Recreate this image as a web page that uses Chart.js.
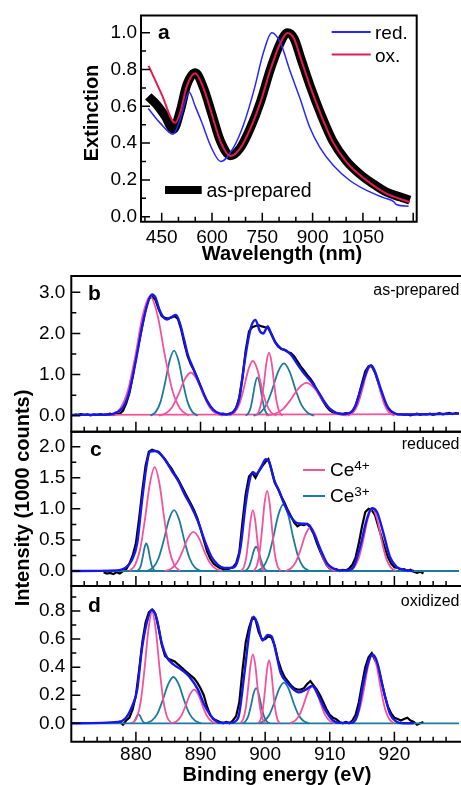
<!DOCTYPE html>
<html>
<head>
<meta charset="utf-8">
<script src="https://cdn.jsdelivr.net/npm/chart.js@4.4.1/dist/chart.umd.min.js"></script>
<style>
  html, body { margin: 0; padding: 0; background: #fff; }
  #figure { position: relative; width: 461px; height: 785px; overflow: hidden; }
  #figure canvas { position: absolute; left: 0; top: 0; }
</style>
</head>
<body>
<div id="figure">
  <canvas id="panelA" width="461" height="785"></canvas>
  <canvas id="panelB" width="461" height="785"></canvas>
  <canvas id="panelC" width="461" height="785"></canvas>
  <canvas id="panelD" width="461" height="785"></canvas>
</div>
<script>
// ---- panel a: extinction spectra ----
const waveAsPrepared = [410, 435, 460, 485, 505, 525, 550, 575, 600, 625, 655, 685, 715, 745, 775, 805, 825, 845, 865, 895, 925, 960, 1000, 1040, 1080, 1120, 1160, 1190];
const extAsPrepared = [0.654, 0.609, 0.547, 0.475, 0.573, 0.717, 0.783, 0.699, 0.556, 0.412, 0.332, 0.376, 0.484, 0.627, 0.806, 0.95, 1.0, 0.968, 0.86, 0.699, 0.556, 0.412, 0.305, 0.233, 0.179, 0.134, 0.108, 0.09];
const waveOx = [411, 450, 490, 505, 525, 550, 575, 600, 625, 655, 685, 715, 745, 775, 805, 825, 845, 865, 895, 925, 960, 1000, 1040, 1080, 1120, 1160, 1190];
const extOx = [0.82, 0.665, 0.51, 0.565, 0.71, 0.78, 0.697, 0.554, 0.41, 0.33, 0.374, 0.482, 0.625, 0.804, 0.948, 0.998, 0.966, 0.858, 0.697, 0.553, 0.408, 0.3, 0.228, 0.172, 0.126, 0.098, 0.08];
const waveRed = [410, 445, 484, 505, 532, 550, 568, 598, 626, 664, 694, 724, 754, 778, 803, 833, 862, 892, 922, 962, 1011, 1061, 1111, 1141, 1151, 1186];
const extRed = [0.588, 0.51, 0.448, 0.53, 0.677, 0.6, 0.52, 0.376, 0.3, 0.376, 0.5, 0.68, 0.896, 1.0, 0.95, 0.79, 0.645, 0.484, 0.376, 0.278, 0.197, 0.143, 0.104, 0.084, 0.065, 0.057];

// ---- panels b-d: Ce 3d XPS (1000 counts) ----
const energyGrid = [
  870, 870.5, 871, 871.5, 872, 872.5, 873, 873.5, 874, 874.5,
  875, 875.5, 876, 876.5, 877, 877.5, 878, 878.5, 879, 879.5,
  880, 880.5, 881, 881.5, 882, 882.5, 883, 883.5, 884, 884.5,
  885, 885.5, 886, 886.5, 887, 887.5, 888, 888.5, 889, 889.5,
  890, 890.5, 891, 891.5, 892, 892.5, 893, 893.5, 894, 894.5,
  895, 895.5, 896, 896.5, 897, 897.5, 898, 898.5, 899, 899.5,
  900, 900.5, 901, 901.5, 902, 902.5, 903, 903.5, 904, 904.5,
  905, 905.5, 906, 906.5, 907, 907.5, 908, 908.5, 909, 909.5,
  910, 910.5, 911, 911.5, 912, 912.5, 913, 913.5, 914, 914.5,
  915, 915.5, 916, 916.5, 917, 917.5, 918, 918.5, 919, 919.5,
  920, 920.5, 921, 921.5, 922, 922.5, 923, 923.5, 924, 924.5,
  925, 925.5, 926, 926.5, 927, 927.5, 928, 928.5, 929, 929.5,
  930,
];

const countsB = [
  null,
  0.03, 0.02, 0.04, 0.02, 0.03, 0.01, 0.03, 0.02, 0.04, 0.02,
  0.03, 0.05, 0.02, 0.04, 0.05, 0.12, 0.3, 0.55, 0.95, 1.4,
  1.8, 2.2, 2.6, 2.85, 2.9, 2.82, 2.6, 2.42, 2.38, 2.36,
  2.39, 2.42, 2.35, 2.1, 1.75, 1.45, 1.25, 1.1, 0.92, 0.72,
  0.52, 0.36, 0.22, 0.12, 0.07, 0.04, 0.05, 0.03, 0.05, 0.08,
  0.18, 0.45, 0.95, 1.6, 2.05, 2.15, 2.18, 2.2, 2.17, 2.15,
  2.12, 1.98, 1.8, 1.68, 1.62, 1.6, 1.55, 1.52, 1.44, 1.32,
  1.2, 1.1, 0.99, 0.9, 0.78, 0.62, 0.48, 0.34, 0.22, 0.13,
  0.08, 0.06, 0.05, 0.04, 0.06, 0.05, 0.1, 0.25, 0.5, 0.8,
  1.08, 1.2, 1.2, 1.05, 0.8, 0.55, 0.32, 0.18, 0.1, 0.05,
  0.03, 0.04, 0.02, 0.03, 0.01, 0.03, 0.05, 0.02, 0.04, 0.03,
  0.05, 0.02, 0.04, 0.06, 0.03, 0.05, 0.07, 0.04, 0.06, 0.05,
];

const countsC = [
  null, null, null, null, null, null, null, null, null, null,
  -0.02, -0.04, -0.03, -0.05, -0.02, -0.04, 0.0, 0.03, 0.12, 0.25,
  0.45, 0.85, 1.3, 1.7, 1.92, 1.95, 1.93, 1.92, 1.86, 1.8,
  1.72, 1.65, 1.56, 1.48, 1.38, 1.28, 1.18, 1.08, 0.98, 0.85,
  0.68, 0.5, 0.32, 0.2, 0.12, 0.08, 0.05, 0.03, 0.02, 0.04,
  0.06, 0.12, 0.3, 0.8, 1.25, 1.52, 1.58, 1.5, 1.6, 1.68,
  1.75, 1.8, 1.62, 1.42, 1.32, 1.2, 1.1, 0.98, 0.88, 0.78,
  0.72, 0.75, 0.74, 0.76, 0.7, 0.6, 0.45, 0.32, 0.2, 0.1,
  0.04, 0.02, 0.03, 0.0, 0.02, 0.01, 0.04, 0.1, 0.22, 0.45,
  0.72, 0.95, 1.0, 0.98, 0.9, 0.72, 0.55, 0.38, 0.22, 0.12,
  0.06, 0.05, 0.02, 0.03, 0.0, 0.02, -0.01, -0.03, -0.01, -0.04,
  null, null, null, null, null, null, null, null, null, null,
  null,
];

const countsD = [
  null, null, null, null, null, null, null, null, null, null,
  null, null, null, null, 0.0, 0.01, -0.01, 0.02, 0.04, 0.1,
  0.2, 0.38, 0.58, 0.72, 0.79, 0.81, 0.78, 0.68, 0.56, 0.48,
  0.46, 0.45, 0.44, 0.42, 0.4, 0.38, 0.36, 0.34, 0.32, 0.29,
  0.25, 0.2, 0.12, 0.06, 0.03, 0.02, 0.01, 0.0, 0.01, 0.0,
  0.02, 0.05, 0.15, 0.38, 0.58, 0.68, 0.75, 0.74, 0.65, 0.6,
  0.6, 0.62, 0.61, 0.55, 0.45, 0.38, 0.33, 0.3, 0.27, 0.25,
  0.24, 0.24, 0.25, 0.28, 0.3, 0.27, 0.24, 0.2, 0.15, 0.1,
  0.06, 0.04, 0.03, 0.01, 0.0, 0.01, 0.0, 0.02, 0.06, 0.15,
  0.28, 0.4, 0.47, 0.5, 0.45, 0.4, 0.3, 0.2, 0.12, 0.07,
  0.04, 0.03, 0.02, 0.03, 0.04, 0.02, 0.01, -0.01, 0.0, 0.01,
  null, null, null, null, null, null, null, null, null, null,
  null,
];

const envelopeB = [[870, 0.02], [876, 0.03], [877, 0.08], [878, 0.2], [879, 0.6], [880, 1.35], [881, 2.2], [882, 2.82], [882.5, 2.95], [883, 2.88], [883.7, 2.55], [884.3, 2.38], [884.8, 2.34], [885.5, 2.4], [886.2, 2.45], [886.8, 2.25], [887.5, 1.82], [888, 1.5], [889, 1.1], [890, 0.72], [891, 0.36], [892, 0.14], [893, 0.05], [894, 0.03], [895, 0.08], [896, 0.42], [897, 1.5], [897.8, 2.15], [898.5, 2.33], [899.2, 2.05], [899.7, 2.0], [900.4, 2.17], [900.9, 2.0], [901.6, 1.78], [902.5, 1.63], [903.3, 1.58], [904, 1.48], [905, 1.25], [906, 1.03], [907, 0.85], [908, 0.64], [909, 0.38], [910, 0.17], [911, 0.07], [912, 0.04], [913, 0.06], [914, 0.25], [915, 0.75], [916, 1.18], [916.4, 1.23], [917, 1.07], [918, 0.6], [919, 0.2], [920, 0.06], [921, 0.03], [930, 0.05]];
const envelopeC = [[870, 0], [877, 0.01], [878.6, 0.07], [879.4, 0.18], [880.2, 0.45], [880.9, 1.09], [881.7, 1.73], [882.2, 1.92], [883, 1.93], [883.7, 1.89], [884.5, 1.79], [885.5, 1.62], [886.6, 1.44], [887.6, 1.22], [888.6, 1.03], [889.6, 0.8], [890.6, 0.5], [891.7, 0.23], [892.7, 0.1], [893.7, 0.05], [894.7, 0.05], [895.5, 0.1], [896.2, 0.39], [897, 1.09], [897.6, 1.46], [898.1, 1.59], [898.6, 1.56], [899.4, 1.68], [900.1, 1.8], [900.6, 1.76], [901.4, 1.46], [902.2, 1.28], [902.9, 1.09], [904, 0.87], [905, 0.77], [906, 0.76], [906.8, 0.74], [907.5, 0.61], [908.6, 0.34], [909.6, 0.12], [910.6, 0.04], [911.6, 0.01], [912.7, 0.01], [913.7, 0.07], [914.7, 0.39], [915.7, 0.82], [916.5, 1.01], [917.3, 0.95], [918.3, 0.61], [919.3, 0.23], [920.3, 0.07], [921.4, 0.02], [923, 0]];
const envelopeD = [[870, 0], [877.3, 0.01], [878.4, 0.036], [879.4, 0.12], [880.2, 0.24], [880.9, 0.52], [881.7, 0.72], [882.5, 0.81], [883.2, 0.75], [884, 0.57], [884.8, 0.47], [885.8, 0.42], [887.1, 0.38], [888.3, 0.33], [889.6, 0.24], [890.6, 0.13], [891.9, 0.036], [893, 0.005], [894.7, 0.005], [895.8, 0.036], [896.8, 0.36], [897.6, 0.66], [898.2, 0.76], [898.8, 0.71], [899.6, 0.59], [900.4, 0.63], [901, 0.62], [901.7, 0.5], [902.4, 0.36], [903.5, 0.285], [904.5, 0.237], [905.2, 0.22], [906.2, 0.237], [907.3, 0.266], [908.3, 0.19], [909.3, 0.095], [910.4, 0.024], [911.6, 0.003], [913.2, 0.003], [914.2, 0.047], [915.2, 0.285], [916, 0.44], [916.6, 0.49], [917.3, 0.44], [918.3, 0.24], [919.3, 0.07], [920.3, 0.012], [921.4, 0], [923, 0]];

const ce4PeaksB = [
  [[876.22, 0], [877.6, 0.18], [878.75, 0.61], [879.9, 1.45], [881.05, 2.44], [882.2, 2.9], [883.35, 2.44], [884.5, 1.45], [885.65, 0.61], [886.8, 0.18], [888.18, 0]],
  [[883.56, 0], [884.7, 0.066], [885.65, 0.22], [886.6, 0.525], [887.55, 0.88], [888.5, 1.05], [889.45, 0.88], [890.4, 0.525], [891.35, 0.22], [892.3, 0.066], [893.44, 0]],
  [[894.46, 0], [895.3, 0.083], [896.0, 0.28], [896.7, 0.665], [897.4, 1.12], [898.1, 1.33], [898.8, 1.12], [899.5, 0.665], [900.2, 0.28], [900.9, 0.083], [901.74, 0]],
  [[898.52, 0], [899.0, 0.096], [899.4, 0.32], [899.8, 0.765], [900.2, 1.29], [900.6, 1.53], [901.0, 1.29], [901.4, 0.765], [901.8, 0.32], [902.2, 0.096], [902.68, 0]],
  [[900.16, 0], [901.6, 0.05], [902.8, 0.168], [904.0, 0.4], [905.2, 0.672], [906.4, 0.8], [907.6, 0.672], [908.8, 0.4], [910.0, 0.168], [911.2, 0.05], [912.64, 0]],
  [[912.76, 0], [913.6, 0.076], [914.3, 0.256], [915.0, 0.61], [915.7, 1.025], [916.4, 1.22], [917.1, 1.025], [917.8, 0.61], [918.5, 0.256], [919.2, 0.076], [920.04, 0]],
];
const ce3PeaksB = [
  [[882.26, 0], [883.1, 0.099], [883.8, 0.33], [884.5, 0.79], [885.2, 1.33], [885.9, 1.58], [886.6, 1.33], [887.3, 0.79], [888.0, 0.33], [888.7, 0.099], [889.54, 0]],
  [[896.98, 0], [897.4, 0.058], [897.75, 0.195], [898.1, 0.465], [898.45, 0.78], [898.8, 0.93], [899.15, 0.78], [899.5, 0.465], [899.85, 0.195], [900.2, 0.058], [900.62, 0]],
  [[898.22, 0], [899.3, 0.079], [900.2, 0.267], [901.1, 0.635], [902.0, 1.067], [902.9, 1.27], [903.8, 1.067], [904.7, 0.635], [905.6, 0.267], [906.5, 0.079], [907.58, 0]],
];

const ce4PeaksC = [
  [[879.0, 0], [879.9, 0.104], [880.65, 0.35], [881.4, 0.835], [882.15, 1.4], [882.9, 1.67], [883.65, 1.4], [884.4, 0.835], [885.15, 0.35], [885.9, 0.104], [886.8, 0]],
  [[884.48, 0], [885.5, 0.039], [886.35, 0.132], [887.2, 0.315], [888.05, 0.53], [888.9, 0.63], [889.75, 0.53], [890.6, 0.315], [891.45, 0.132], [892.3, 0.039], [893.32, 0]],
  [[896.28, 0], [896.7, 0.061], [897.05, 0.206], [897.4, 0.49], [897.75, 0.823], [898.1, 0.98], [898.45, 0.823], [898.8, 0.49], [899.15, 0.206], [899.5, 0.061], [899.92, 0]],
  [[898.22, 0], [898.7, 0.081], [899.1, 0.271], [899.5, 0.645], [899.9, 1.084], [900.3, 1.29], [900.7, 1.084], [901.1, 0.645], [901.5, 0.271], [901.9, 0.081], [902.38, 0]],
  [[903.1, 0], [904.0, 0.044], [904.75, 0.147], [905.5, 0.35], [906.25, 0.588], [907.0, 0.7], [907.75, 0.588], [908.5, 0.35], [909.25, 0.147], [910.0, 0.044], [910.9, 0]],
  [[912.96, 0], [913.8, 0.063], [914.5, 0.212], [915.2, 0.505], [915.9, 0.848], [916.6, 1.01], [917.3, 0.848], [918.0, 0.505], [918.7, 0.212], [919.4, 0.063], [920.24, 0]],
];
const ce3PeaksC = [
  [[880.17, 0], [880.5, 0.028], [880.78, 0.093], [881.05, 0.223], [881.33, 0.374], [881.6, 0.445], [881.88, 0.374], [882.15, 0.223], [882.43, 0.093], [882.7, 0.028], [883.03, 0]],
  [[881.74, 0], [882.7, 0.061], [883.5, 0.206], [884.3, 0.49], [885.1, 0.823], [885.9, 0.98], [886.7, 0.823], [887.5, 0.49], [888.3, 0.206], [889.1, 0.061], [890.06, 0]],
  [[896.78, 0], [897.2, 0.024], [897.55, 0.082], [897.9, 0.195], [898.25, 0.328], [898.6, 0.39], [898.95, 0.328], [899.3, 0.195], [899.65, 0.082], [900.0, 0.024], [900.42, 0]],
  [[898.77, 0], [899.7, 0.067], [900.48, 0.225], [901.25, 0.535], [902.03, 0.899], [902.8, 1.07], [903.58, 0.899], [904.35, 0.535], [905.13, 0.225], [905.9, 0.067], [906.83, 0]],
];

const ce4PeaksD = [
  [[879.51, 0], [880.2, 0.049], [880.78, 0.166], [881.35, 0.395], [881.93, 0.664], [882.5, 0.79], [883.08, 0.664], [883.65, 0.395], [884.23, 0.166], [884.8, 0.049], [885.49, 0]],
  [[885.49, 0], [886.3, 0.015], [886.98, 0.05], [887.65, 0.12], [888.33, 0.202], [889.0, 0.24], [889.68, 0.202], [890.35, 0.12], [891.03, 0.05], [891.7, 0.015], [892.51, 0]],
  [[896.15, 0], [896.6, 0.031], [896.98, 0.103], [897.35, 0.245], [897.73, 0.412], [898.1, 0.49], [898.48, 0.412], [898.85, 0.245], [899.23, 0.103], [899.6, 0.031], [900.05, 0]],
  [[898.91, 0], [899.3, 0.028], [899.63, 0.095], [899.95, 0.225], [900.28, 0.378], [900.6, 0.45], [900.93, 0.378], [901.25, 0.225], [901.58, 0.095], [901.9, 0.028], [902.29, 0]],
  [[903.79, 0], [904.6, 0.017], [905.28, 0.056], [905.95, 0.133], [906.63, 0.223], [907.3, 0.266], [907.98, 0.223], [908.65, 0.133], [909.33, 0.056], [910.0, 0.017], [910.81, 0]],
  [[913.22, 0], [914.0, 0.031], [914.65, 0.103], [915.3, 0.245], [915.95, 0.412], [916.6, 0.49], [917.25, 0.412], [917.9, 0.245], [918.55, 0.103], [919.2, 0.031], [919.98, 0]],
];
const ce3PeaksD = [
  [[879.23, 0], [879.5, 0.004], [879.73, 0.013], [879.95, 0.032], [880.18, 0.054], [880.4, 0.064], [880.63, 0.054], [880.85, 0.032], [881.08, 0.013], [881.3, 0.004], [881.57, 0]],
  [[881.51, 0], [882.5, 0.021], [883.33, 0.069], [884.15, 0.165], [884.98, 0.277], [885.8, 0.33], [886.63, 0.277], [887.45, 0.165], [888.28, 0.069], [889.1, 0.021], [890.09, 0]],
  [[896.52, 0], [897.0, 0.016], [897.4, 0.053], [897.8, 0.125], [898.2, 0.21], [898.6, 0.25], [899.0, 0.21], [899.4, 0.125], [899.8, 0.053], [900.2, 0.016], [900.68, 0]],
  [[899.0, 0], [899.9, 0.018], [900.65, 0.061], [901.4, 0.145], [902.15, 0.244], [902.9, 0.29], [903.65, 0.244], [904.4, 0.145], [905.15, 0.061], [905.9, 0.018], [906.8, 0]],
];
const baselineB = [[870, 0.02], [930, 0.04]];
const baselineCD = [[870, 0], [930, 0]];

// ---- styling ----
const FONT = '"Liberation Sans", Arial, Helvetica, sans-serif';
const PINK = '#f4529d';
const TEAL = '#1c7a9c';
const ENVELOPE = '#1616ee';
const RED_BLUE = '#2626ff';
const OX_RED = '#e31b50';
const PAGE_H = 785;

Chart.defaults.font.family = FONT;

const toXY = (xs, ys) => xs.map((x, i) => ({ x, y: ys[i] }));
const pairs = (list) => list.map(([x, y]) => ({ x, y }));
const isStep = (v, step) => Math.abs(v / step - Math.round(v / step)) < 1e-6;

const lineSet = (points, color, width, smooth = true) => ({
  data: points,
  borderColor: color,
  borderWidth: width,
  pointRadius: 0,
  fill: false,
  tension: 0,
  cubicInterpolationMode: smooth ? 'monotone' : 'default',
});

// inward tick marks + plot frame
const frameTicks = (id, opt) => ({
  id,
  afterDatasetsDraw(chart) {
    const { ctx, chartArea: area, scales: { x, y } } = chart;
    ctx.save();
    ctx.strokeStyle = '#000';
    ctx.lineWidth = 1.5;
    ctx.beginPath();
    x.ticks.forEach(({ value }) => {
      if (value <= x.min || value >= x.max) return;
      const px = x.getPixelForValue(value);
      const len = isStep(value, opt.xMajor) ? opt.xLen[0] : opt.xLen[1];
      ctx.moveTo(px, area.bottom);
      ctx.lineTo(px, area.bottom - len);
    });
    y.ticks.forEach(({ value }) => {
      if (value < 0 || value >= y.max) return;
      const py = y.getPixelForValue(value);
      const len = isStep(value, opt.yMajor) ? opt.yLen[0] : opt.yLen[1];
      ctx.moveTo(area.left, py);
      ctx.lineTo(area.left + len, py);
    });
    ctx.stroke();
    ctx.lineWidth = 2;
    ctx.beginPath();
    if (opt.closed) {
      ctx.rect(area.left, area.top, area.right - area.left, area.bottom - area.top);
    } else {
      ctx.moveTo(area.right + 2, area.top);
      ctx.lineTo(area.left, area.top);
      ctx.lineTo(area.left, area.bottom);
      ctx.lineTo(area.right + 2, area.bottom);
    }
    ctx.stroke();
    ctx.restore();
  },
});

// labels, legends and titles
const textLayer = (id, items) => ({
  id,
  afterDraw(chart) {
    const { ctx } = chart;
    items.forEach((item) => {
      ctx.save();
      if (item.line) {
        const [x1, y1, x2, y2] = item.line;
        ctx.strokeStyle = item.color;
        ctx.lineWidth = item.width;
        ctx.beginPath();
        ctx.moveTo(x1, y1);
        ctx.lineTo(x2, y2);
        ctx.stroke();
      } else {
        ctx.font = item.font;
        ctx.fillStyle = '#000';
        ctx.textAlign = item.align || 'left';
        ctx.textBaseline = item.baseline || 'alphabetic';
        ctx.translate(item.x, item.y);
        if (item.rotate) ctx.rotate(item.rotate);
        ctx.fillText(item.text, 0, 0);
        if (item.sup) {
          const w = ctx.measureText(item.text).width;
          ctx.font = item.supFont;
          ctx.fillText(item.sup, w, item.supDy);
        }
      }
      ctx.restore();
    });
  },
});

const tickFont = { family: FONT, size: 19 };
const baseOptions = (pad, xScale, yScale) => ({
  animation: false,
  responsive: false,
  events: [],
  layout: { padding: pad },
  plugins: { legend: { display: false }, tooltip: { enabled: false } },
  scales: {
    x: {
      type: 'linear',
      position: 'bottom',
      min: xScale.min,
      max: xScale.max,
      border: { display: false },
      grid: { display: false, drawTicks: false },
      ticks: {
        stepSize: xScale.step,
        includeBounds: false,
        autoSkip: false,
        maxRotation: 0,
        padding: xScale.padding,
        color: '#000',
        font: tickFont,
        callback: xScale.label,
      },
      afterFit: (s) => { s.height = xScale.height; },
    },
    y: {
      type: 'linear',
      position: 'left',
      min: yScale.min,
      max: yScale.max,
      border: { display: false },
      grid: { display: false, drawTicks: false },
      ticks: {
        stepSize: yScale.step,
        includeBounds: false,
        autoSkip: false,
        padding: yScale.padding,
        color: '#000',
        font: tickFont,
        callback: (v) => (v >= 0 && isStep(v, yScale.major) ? v.toFixed(1) : ''),
      },
      afterFit: (s) => { s.width = yScale.width; },
    },
  },
});

// ---- panel a ----
new Chart(document.getElementById('panelA'), {
  type: 'line',
  data: {
    datasets: [
      lineSet(toXY(waveOx, extOx), OX_RED, 2),
      lineSet(toXY(waveRed, extRed), RED_BLUE, 1.5),
      lineSet(toXY(waveAsPrepared, extAsPrepared), '#000', 9),
    ],
  },
  options: baseOptions(
    { top: 13.3, right: 44.3, bottom: PAGE_H - 221.7 - 40, left: 0 },
    {
      min: 388.3, max: 1210.4, step: 50, padding: 5, height: 40,
      label: (v) => (v >= 450 && v <= 1050 && isStep(v, 150) ? String(v) : ''),
    },
    { min: -0.027, max: 1.094, step: 0.1, major: 0.2, padding: 4, width: 141 },
  ),
  plugins: [
    frameTicks('frameA', { xMajor: 150, yMajor: 0.2, xLen: [9, 5], yLen: [9, 5], closed: true }),
    textLayer('textA', [
      { text: 'Extinction', x: 92, y: 113, font: `bold 20px ${FONT}`, align: 'center', baseline: 'middle', rotate: -Math.PI / 2 },
      { text: 'Wavelength (nm)', x: 282, y: 254, font: `bold 20px ${FONT}`, align: 'center', baseline: 'middle' },
      { text: 'a', x: 158, y: 38.5, font: `bold 21px ${FONT}` },
      { line: [331.7, 32, 370.7, 32], color: RED_BLUE, width: 1.8 },
      { line: [331.7, 54.5, 370.7, 54.5], color: OX_RED, width: 2 },
      { text: 'red.', x: 375, y: 38.5, font: `19px ${FONT}` },
      { text: 'ox.', x: 375, y: 61.5, font: `19px ${FONT}` },
      { line: [165, 190, 201.7, 190], color: '#000', width: 8 },
      { text: 'as-prepared', x: 206.5, y: 196.5, font: `19.5px ${FONT}` },
    ]),
  ],
});

// ---- panels b-d ----
const xpsChart = (canvasId, panel) => new Chart(document.getElementById(canvasId), {
  type: 'line',
  data: {
    datasets: [
      lineSet(pairs(panel.envelope), ENVELOPE, 2.4),
      ...panel.ce4.map((p) => lineSet(pairs(p), PINK, 1.8)),
      ...panel.ce3.map((p) => lineSet(pairs(p), TEAL, 1.8)),
      lineSet(pairs(panel.baseline), panel.baseColor, 1.8, false),
      lineSet(toXY(energyGrid, panel.counts), '#000', 2.2, false),
    ],
  },
  options: baseOptions(
    { top: panel.top, right: 0, bottom: PAGE_H - panel.bottom - panel.xHeight, left: 0 },
    { min: 870, max: 930, step: 2, padding: 2, height: panel.xHeight, label: panel.xLabel },
    { min: panel.yMin, max: panel.yMax, step: panel.yStep, major: panel.yMajor, padding: 6, width: 71.3 },
  ),
  plugins: [
    frameTicks(`frame-${canvasId}`, { xMajor: 10, yMajor: panel.yMajor, xLen: [10, 5], yLen: [9, 5], closed: false }),
    textLayer(`text-${canvasId}`, panel.texts),
  ],
});

const noLabels = () => '';
const energyLabels = (v) => (v >= 880 && v <= 920 && isStep(v, 10) ? String(v) : '');

xpsChart('panelB', {
  envelope: envelopeB, ce4: ce4PeaksB, ce3: ce3PeaksB, baseline: baselineB, baseColor: PINK, counts: countsB,
  top: 276, bottom: 431.7, xHeight: 20, xLabel: noLabels,
  yMin: -0.389, yMax: 3.396, yStep: 0.5, yMajor: 1,
  texts: [
    { text: 'b', x: 88, y: 300, font: `bold 21px ${FONT}` },
    { text: 'as-prepared', x: 459.5, y: 295, align: 'right', font: `16px ${FONT}` },
  ],
});

xpsChart('panelC', {
  envelope: envelopeC, ce4: ce4PeaksC, ce3: ce3PeaksC, baseline: baselineCD, baseColor: TEAL, counts: countsC,
  top: 431.7, bottom: 586, xHeight: 20, xLabel: noLabels,
  yMin: -0.241, yMax: 2.241, yStep: 0.25, yMajor: 0.5,
  texts: [
    { text: 'c', x: 90, y: 455.5, font: `bold 21px ${FONT}` },
    { text: 'reduced', x: 459.5, y: 449, align: 'right', font: `16px ${FONT}` },
    { line: [303, 470, 325, 470], color: PINK, width: 2 },
    { line: [303, 496, 325, 496], color: TEAL, width: 2 },
    { text: 'Ce', sup: '4+', x: 330, y: 476, font: `19px ${FONT}`, supFont: `13.5px ${FONT}`, supDy: -6.5 },
    { text: 'Ce', sup: '3+', x: 330, y: 502, font: `19px ${FONT}`, supFont: `13.5px ${FONT}`, supDy: -6.5 },
    { text: 'Intensity (1000 counts)', x: 23, y: 498, font: `bold 20px ${FONT}`, align: 'center', baseline: 'middle', rotate: -Math.PI / 2 },
  ],
});

xpsChart('panelD', {
  envelope: envelopeD, ce4: ce4PeaksD, ce3: ce3PeaksD, baseline: baselineCD, baseColor: TEAL, counts: countsD,
  top: 586, bottom: 741.7, xHeight: 40, xLabel: energyLabels,
  yMin: -0.131, yMax: 0.978, yStep: 0.1, yMajor: 0.2,
  texts: [
    { text: 'd', x: 88, y: 611.5, font: `bold 21px ${FONT}` },
    { text: 'oxidized', x: 459.5, y: 606, align: 'right', font: `16px ${FONT}` },
    { text: 'Binding energy (eV)', x: 277, y: 775, font: `bold 20px ${FONT}`, align: 'center', baseline: 'middle' },
  ],
});
</script>
</body>
</html>
